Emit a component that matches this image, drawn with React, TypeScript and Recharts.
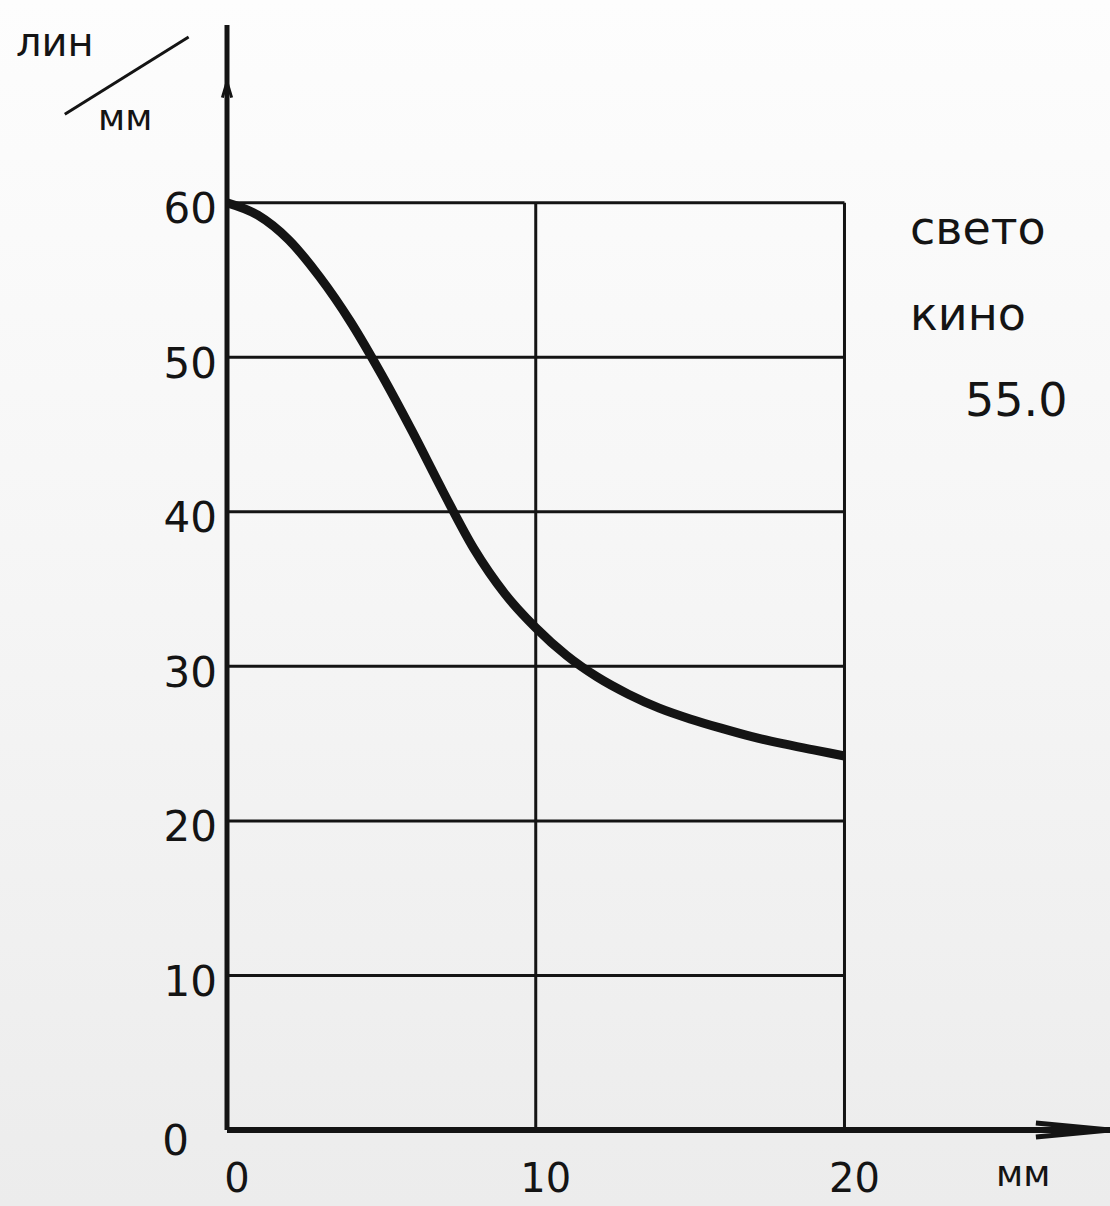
import { LineChart, Line, XAxis, YAxis, ReferenceLine } from "recharts"

// расстояние от центра кадра, мм
const distance = [0, 1, 2, 3, 4, 5, 6, 7, 8, 9, 10, 11, 12, 13, 14, 15, 16, 17, 18, 19, 20]
// разрешающая способность, лин/мм
const resolution = [60, 59.2, 57.6, 55.2, 52.3, 48.9, 45.2, 41.3, 37.6, 34.7, 32.5, 30.7, 29.3, 28.2, 27.3, 26.6, 26.0, 25.45, 25.0, 24.6, 24.2]

const yTicks = [0, 10, 20, 30, 40, 50, 60]
const xTicks = [0, 10, 20]
const gridRows = [10, 20, 30, 40, 50, 60]
const gridCols = [10, 20]

const noteLines = ["свето", "кино", "55.0"]

const chartData = distance.map((d, i) => ({ d, r: resolution[i] }))

const FONT = "'DejaVu Sans', sans-serif"
const INK = "#141414"

function YTick(props: any) {
  const { x, y, payload } = props
  const zero = payload.value === 0
  return (
    <text x={zero ? x - 28 : x} y={zero ? y + 10 : y + 6} textAnchor="end" dominantBaseline="central"
      fontFamily={FONT} fontSize={42} fill={INK}>
      {payload.value}
    </text>
  )
}

function XTick(props: any) {
  const { x, y, payload } = props
  return (
    <text x={x + 10} y={y + 46} textAnchor="middle" dominantBaseline="central"
      fontFamily={FONT} fontSize={40} fill={INK}>
      {payload.value}
    </text>
  )
}

export default function App() {
  return (
    <div style={{ position: "absolute", left: 0, top: 0, width: 1110, height: 1206, overflow: "hidden",
      background: "linear-gradient(180deg, #fdfdfd 0%, #f6f6f6 45%, #ececec 100%)" }}>
      <LineChart width={1110} height={1206} data={chartData} margin={{ top: 25, right: 0, left: 0, bottom: 0 }}>
        <XAxis dataKey="d" type="number" domain={[0, 28.6]} ticks={xTicks} allowDataOverflow
          height={76} tickLine={false} tickSize={0} tick={<XTick />}
          axisLine={{ stroke: INK, strokeWidth: 6 }} />
        <YAxis type="number" domain={[0, 71.5]} ticks={yTicks} allowDataOverflow
          width={227} tickLine={false} tickSize={0} tickMargin={10} tick={<YTick />}
          axisLine={{ stroke: INK, strokeWidth: 5 }} />
        {gridRows.map((v) => (
          <ReferenceLine key={"r" + v} segment={[{ x: 0, y: v }, { x: 20, y: v }]} stroke={INK} strokeWidth={3} />
        ))}
        {gridCols.map((v) => (
          <ReferenceLine key={"c" + v} segment={[{ x: v, y: 0 }, { x: v, y: 60 }]} stroke={INK} strokeWidth={3} />
        ))}
        <ReferenceLine segment={[{ x: 26.2, y: 0.45 }, { x: 28.6, y: 0 }]} stroke={INK} strokeWidth={5} ifOverflow="visible" />
        <ReferenceLine segment={[{ x: 26.2, y: -0.45 }, { x: 28.6, y: 0 }]} stroke={INK} strokeWidth={5} ifOverflow="visible" />
        <ReferenceLine segment={[{ x: -0.15, y: 66.8 }, { x: 0, y: 67.8 }]} stroke={INK} strokeWidth={3} ifOverflow="visible" />
        <ReferenceLine segment={[{ x: 0.15, y: 66.8 }, { x: 0, y: 67.8 }]} stroke={INK} strokeWidth={3} ifOverflow="visible" />
        <Line type="monotone" dataKey="r" stroke={INK} strokeWidth={9} dot={false} isAnimationActive={false} />
      </LineChart>

      {/* подпись оси Y */}
      <div style={{ position: "absolute", left: 16, top: 22, fontFamily: FONT, fontSize: 40, color: INK, lineHeight: 1 }}>лин</div>
      <div style={{ position: "absolute", left: 64, top: 113, width: 146, height: 3, background: INK,
        transform: "rotate(-32deg)", transformOrigin: "0 0" }} />
      <div style={{ position: "absolute", left: 98, top: 100, fontFamily: FONT, fontSize: 36, color: INK, lineHeight: 1 }}>мм</div>

      {/* подпись оси X */}
      <div style={{ position: "absolute", left: 996, top: 1156, fontFamily: FONT, fontSize: 36, color: INK, lineHeight: 1 }}>мм</div>

      {/* примечание справа */}
      {noteLines.map((t, i) => (
        <div key={t} style={{ position: "absolute", left: i === 2 ? 965 : 910, top: 205 + i * 86, fontFamily: FONT,
          fontSize: 46, color: INK, lineHeight: 1, whiteSpace: "nowrap" }}>{t}</div>
      ))}
    </div>
  )
}
